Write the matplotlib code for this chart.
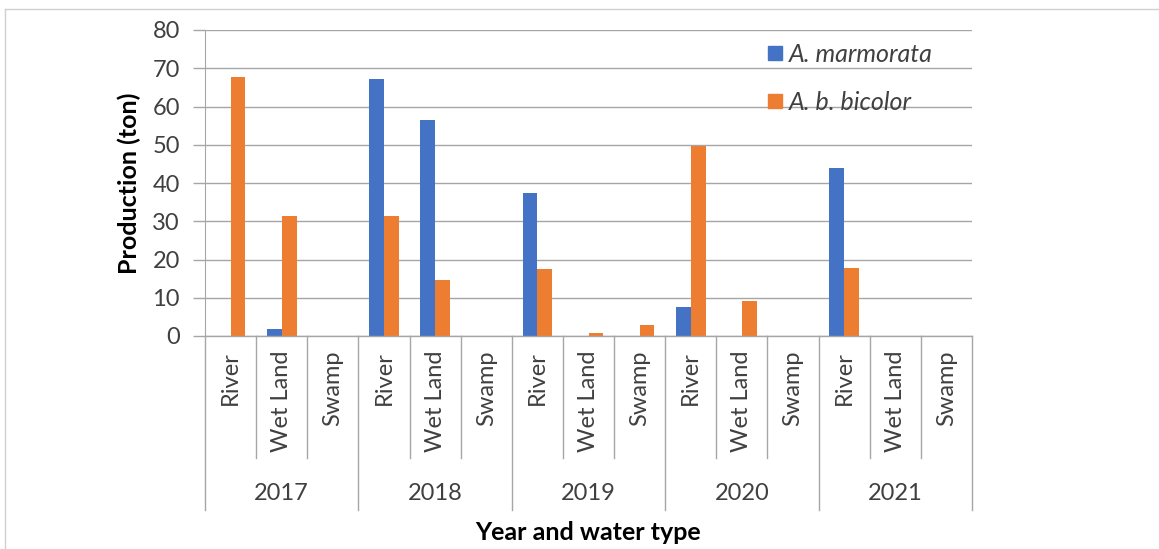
import matplotlib.pyplot as plt
from matplotlib.lines import Line2D
import numpy as np

plt.rcParams['font.family'] = ['Lato', 'DejaVu Sans']

# data
years = ['2017', '2018', '2019', '2020', '2021']
water_types = ['River', 'Wet Land', 'Swamp']
marmorata = [0, 1.8, 0,
             67.2, 56.5, 0,
             37.3, 0, 0,
             7.7, 0, 0,
             44.0, 0, 0]
bicolor = [67.8, 31.5, 0,
           31.5, 14.7, 0,
           17.5, 0.8, 3.0,
           49.8, 9.1, 0,
           17.8, 0, 0]

BLUE = '#4472C4'
ORANGE = '#ED7D31'
GRID = '#A6A6A6'
TEXT = '#404040'
FS = 17

W, H = 1159, 549
fig = plt.figure(figsize=(W / 100, H / 100), dpi=100)
x0, x1, y0, y1 = 205, 972, 30, 336
ax = fig.add_axes([x0 / W, 1 - y1 / H, (x1 - x0) / W, (y1 - y0) / H])

n = len(marmorata)
x = np.arange(n)
bw = 0.29
ax.bar(x - bw / 2, marmorata, bw, color=BLUE, zorder=3)
ax.bar(x + bw / 2, bicolor, bw, color=ORANGE, zorder=3)

ax.set_xlim(-0.5, n - 0.5)
ax.set_ylim(0, 80)
ax.set_yticks(range(0, 81, 10))
ax.grid(axis='y', color=GRID, lw=1, zorder=0)
ax.tick_params(axis='y', direction='out', length=9, width=1, color=GRID,
               labelsize=FS, labelcolor=TEXT, pad=9)
ax.tick_params(axis='x', length=0, labelbottom=False)
for s in ['top', 'right', 'bottom']:
    ax.spines[s].set_visible(False)
ax.spines['left'].set_color(GRID)
ax.spines['left'].set_bounds(0, 80)

trans = ax.get_xaxis_transform()
px = lambda py: (y1 - py) / (y1 - y0)  # pixel y -> axes fraction
ax.plot([-0.5, n - 0.5], [0, 0], color=GRID, lw=1, transform=trans, clip_on=False, zorder=4)
for b in np.arange(-0.5, n, 1.0):
    bottom = 510 if (b + 0.5) % 3 == 0 else 458
    ax.plot([b, b], [0, px(bottom)], color=GRID, lw=1, transform=trans, clip_on=False)

for i in range(n):
    ax.text(i, px(351), water_types[i % 3], rotation=90, ha='center', va='top',
            fontsize=FS, color=TEXT, transform=trans)
for j, yr in enumerate(years):
    ax.text(3 * j + 1, px(493), yr, ha='center', va='center',
            fontsize=FS, color=TEXT, transform=trans)

ax.text(0.5, px(533), 'Year and water type', ha='center', va='center', fontsize=18,
        fontweight='bold', color='black', transform=ax.transAxes)
ax.set_ylabel('Production (ton)', fontsize=18, fontweight='bold', color='black', labelpad=8)

handles = [Line2D([], [], marker='s', ls='', color=BLUE, markersize=10),
           Line2D([], [], marker='s', ls='', color=ORANGE, markersize=10)]
ax.legend(handles, ['A. marmorata', 'A. b. bicolor'], loc='upper left',
          bbox_to_anchor=((744 - x0) / (x1 - x0), px(20)), frameon=False,
          prop={'style': 'italic', 'size': 18}, labelspacing=1.0,
          handlelength=0.7, handletextpad=0.2, labelcolor=TEXT)

# outer chart border (left and top only visible)
fig.add_artist(Line2D([5 / W, 5 / W], [0, 1 - 9 / H], color='#D0D0D0', lw=1))
fig.add_artist(Line2D([5 / W, 1], [1 - 9 / H, 1 - 9 / H], color='#D0D0D0', lw=1))

fig.savefig('out.png', dpi=100)
